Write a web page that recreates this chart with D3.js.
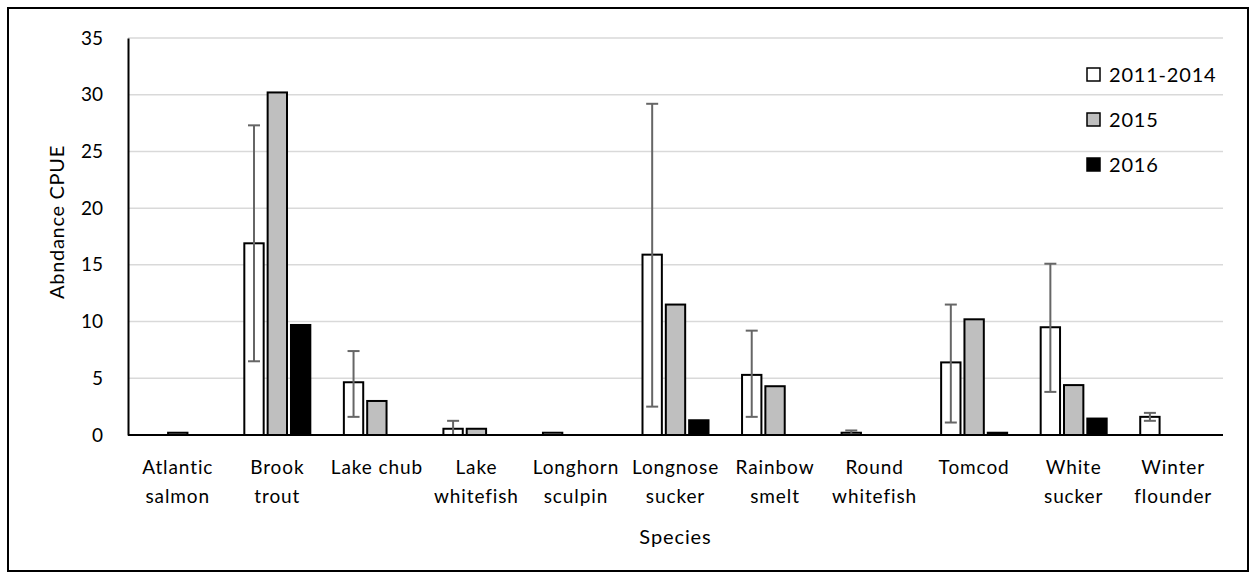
<!DOCTYPE html>
<html>
<head>
<meta charset="utf-8">
<script src="https://cdn.jsdelivr.net/npm/d3@7"></script>
<style>
	body { margin: 0; background: #fff; }
	svg { display: block; font-family: Lato, "Open Sans", sans-serif; }
</style>
</head>
<body>
<svg id="chart" width="1252" height="578"></svg>
<script>
const species = [
	["Atlantic", "salmon"], ["Brook", "trout"], ["Lake chub"], ["Lake", "whitefish"],
	["Longhorn", "sculpin"], ["Longnose", "sucker"], ["Rainbow", "smelt"], ["Round", "whitefish"],
	["Tomcod"], ["White", "sucker"], ["Winter", "flounder"],
]
const seriesNames = ["2011-2014", "2015", "2016"]
const seriesColors = ["#ffffff", "#bfbfbf", "#000000"]
const cpue2011to2014 = [0, 16.9, 4.65, 0.55, 0.2, 15.9, 5.3, 0.2, 6.4, 9.5, 1.6]
const cpue2015 = [0.2, 30.2, 3.0, 0.55, 0, 11.5, 4.3, 0, 10.2, 4.4, 0]
const cpue2016 = [0, 9.7, 0, 0, 0, 1.3, 0, 0, 0.2, 1.45, 0]
// error range for 2011-2014 only, [low, high]
const errLow = [null, 6.5, 1.6, 0, null, 2.5, 1.6, 0, 1.1, 3.8, 1.25]
const errHigh = [null, 27.3, 7.4, 1.25, null, 29.2, 9.2, 0.4, 11.5, 15.1, 1.95]
const yTicks = [0, 5, 10, 15, 20, 25, 30, 35]

const margin = {top: 38, right: 29, bottom: 143, left: 128}
const width = 1252, height = 578
const plotWidth = width - margin.left - margin.right
const plotHeight = height - margin.top - margin.bottom

const svg = d3.select("#chart")

svg.append("rect")
	.attr("x", 8).attr("y", 8)
	.attr("width", 1240).attr("height", 563)
	.attr("fill", "#fff").attr("stroke", "#000").attr("stroke-width", 2)

const plot = svg.append("g")
	.attr("transform", "translate(" + margin.left + "," + margin.top + ")")

const x = d3.scaleBand().domain(d3.range(species.length)).range([0, plotWidth])
const xInner = d3.scaleBand().domain(d3.range(3)).range([x.bandwidth() / 2 - 33, x.bandwidth() / 2 + 33]).paddingInner(0.17)
const y = d3.scaleLinear().domain([0, 35]).range([plotHeight, 0])

// grid
plot.append("g")
	.selectAll("line")
	.data(yTicks.slice(1))
	.join("line")
	.attr("x1", 0).attr("x2", plotWidth)
	.attr("y1", d => y(d)).attr("y2", d => y(d))
	.attr("stroke", "#d9d9d9").attr("stroke-width", 1.5)

// y axis
const yAxis = plot.append("g")
	.call(d3.axisLeft(y).tickValues(yTicks).tickSize(0).tickPadding(25))
yAxis.select(".domain").attr("stroke", "#000").attr("stroke-width", 2)
yAxis.selectAll("text").attr("font-size", 19).attr("fill", "#000").attr("font-family", "Lato")

// bars
const series = [cpue2011to2014, cpue2015, cpue2016]
series.forEach((values, s) => {
	plot.append("g")
		.selectAll("rect")
		.data(values.map((v, i) => ({v, i})).filter(d => d.v > 0))
		.join("rect")
		.attr("x", d => x(d.i) + xInner(s))
		.attr("y", d => y(d.v))
		.attr("width", xInner.bandwidth())
		.attr("height", d => y(0) - y(d.v))
		.attr("fill", seriesColors[s])
		.attr("stroke", "#000").attr("stroke-width", 2)
})

// error bars
const errData = errHigh.map((h, i) => ({i, lo: errLow[i], hi: h})).filter(d => d.hi !== null)
const err = plot.append("g").attr("stroke", "#666").attr("stroke-width", 2)
err.selectAll("line.v")
	.data(errData).join("line").attr("class", "v")
	.attr("x1", d => x(d.i) + xInner(0) + xInner.bandwidth() / 2)
	.attr("x2", d => x(d.i) + xInner(0) + xInner.bandwidth() / 2)
	.attr("y1", d => y(d.lo)).attr("y2", d => y(d.hi))
err.selectAll("line.top")
	.data(errData).join("line").attr("class", "top")
	.attr("x1", d => x(d.i) + xInner(0) + xInner.bandwidth() / 2 - 6)
	.attr("x2", d => x(d.i) + xInner(0) + xInner.bandwidth() / 2 + 6)
	.attr("y1", d => y(d.hi)).attr("y2", d => y(d.hi))
err.selectAll("line.bot")
	.data(errData.filter(d => d.lo > 0)).join("line").attr("class", "bot")
	.attr("x1", d => x(d.i) + xInner(0) + xInner.bandwidth() / 2 - 6)
	.attr("x2", d => x(d.i) + xInner(0) + xInner.bandwidth() / 2 + 6)
	.attr("y1", d => y(d.lo)).attr("y2", d => y(d.lo))

// x axis
plot.append("line")
	.attr("x1", 0).attr("x2", plotWidth)
	.attr("y1", y(0)).attr("y2", y(0))
	.attr("stroke", "#000").attr("stroke-width", 2)

const labels = plot.append("g")
	.attr("font-size", 19).attr("text-anchor", "middle").attr("fill", "#000")
	.attr("letter-spacing", 0.9)
	.selectAll("text")
	.data(species)
	.join("text")
	.attr("x", (d, i) => x(i) + x.bandwidth() / 2)
	.attr("y", plotHeight + 39)
labels.selectAll("tspan")
	.data(d => d)
	.join("tspan")
	.attr("x", function() { return this.parentNode.getAttribute("x") })
	.attr("dy", (d, j) => j === 0 ? 0 : 29)
	.text(d => d)

// axis titles
plot.append("text")
	.attr("x", plotWidth / 2).attr("y", plotHeight + 109)
	.attr("text-anchor", "middle").attr("font-size", 20).attr("letter-spacing", 0.9)
	.text("Species")
svg.append("text")
	.attr("transform", "translate(64,222) rotate(-90)")
	.attr("text-anchor", "middle").attr("font-size", 20).attr("letter-spacing", 0.7)
	.text("Abndance CPUE")

// legend
const legend = svg.append("g").attr("transform", "translate(1087,75)")
const item = legend.selectAll("g")
	.data(seriesNames)
	.join("g")
	.attr("transform", (d, i) => "translate(0," + i * 45 + ")")
item.append("rect")
	.attr("x", 0).attr("y", -7).attr("width", 13).attr("height", 13)
	.attr("fill", (d, i) => seriesColors[i])
	.attr("stroke", "#000").attr("stroke-width", 1.5)
item.append("text")
	.attr("x", 22).attr("y", 7)
	.attr("font-size", 20).attr("letter-spacing", 0.8)
	.text(d => d)
</script>
</body>
</html>
